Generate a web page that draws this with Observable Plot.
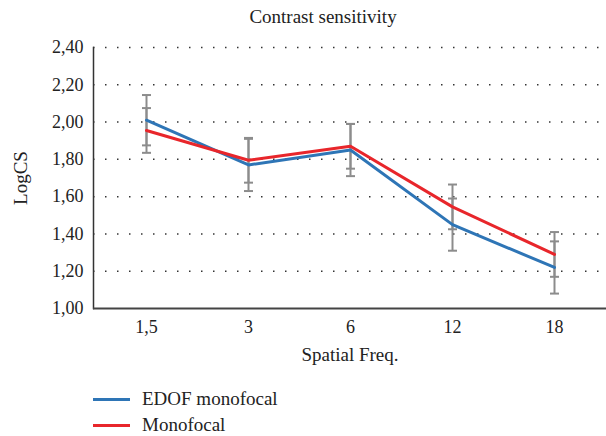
<!DOCTYPE html>
<html>
<head>
<meta charset="utf-8">
<script src="https://cdn.jsdelivr.net/npm/d3@7"></script>
<script src="https://cdn.jsdelivr.net/npm/@observablehq/plot@0.6"></script>
<style>
  html, body { margin: 0; padding: 0; background: #fff; }
  body { width: 606px; height: 436px; overflow: hidden; font-family: "Liberation Serif", "Times New Roman", serif; color: #222; }
  #title { height: 30px; line-height: 34px; font-size: 19px; text-align: center; padding-left: 40px; width: 566px; }
  #legend { margin-left: 93px; margin-top: 11px; font-size: 19px; }
  .item { display: flex; align-items: center; height: 26px; }
  .sw { width: 37px; height: 3px; margin-right: 12px; }
</style>
</head>
<body>
<div id="title">Contrast sensitivity</div>
<div id="chart"></div>
<div id="legend"></div>
<script>
const categories = ["1,5", "3", "6", "12", "18"];
const seriesNames = ["EDOF monofocal", "Monofocal"];
const edofValues = [2.01, 1.77, 1.85, 1.45, 1.22];
const edofErrors = [0.135, 0.14, 0.14, 0.14, 0.14];
const monoValues = [1.955, 1.795, 1.87, 1.545, 1.29];
const monoErrors = [0.12, 0.12, 0.12, 0.12, 0.12];
const yTicks = [1.0, 1.2, 1.4, 1.6, 1.8, 2.0, 2.2, 2.4];
const colors = ["#2e75b6", "#e8262b"];

const rows = [];
categories.forEach((c, i) => {
  rows.push({cat: c, series: seriesNames[0], v: edofValues[i], e: edofErrors[i]});
  rows.push({cat: c, series: seriesNames[1], v: monoValues[i], e: monoErrors[i]});
});

const capSymbol = {
  draw(ctx) { ctx.moveTo(-4.5, 0); ctx.lineTo(4.5, 0); }
};
const errColor = "#8c8c8c";

const chart = Plot.plot({
  width: 606,
  height: 345,
  marginTop: 17,
  marginBottom: 67,
  marginLeft: 93,
  marginRight: 0,
  style: {fontFamily: "'Liberation Serif', 'Times New Roman', serif", fontSize: "18px", color: "#222"},
  x: {type: "point", domain: categories, padding: 0.5, label: null},
  y: {domain: [1, 2.4], label: null},
  color: {domain: seriesNames, range: colors},
  marks: [
    Plot.ruleY(yTicks.slice(1), {stroke: "#000", strokeWidth: 1.5, strokeDasharray: "1.5,10.5", strokeOpacity: 0.8}),
    Plot.ruleX(rows, {x: "cat", y1: d => d.v - d.e, y2: d => d.v + d.e, stroke: errColor, strokeWidth: 2}),
    Plot.dot(rows, {x: "cat", y: d => d.v + d.e, symbol: capSymbol, stroke: errColor, strokeWidth: 2}),
    Plot.dot(rows, {x: "cat", y: d => d.v - d.e, symbol: capSymbol, stroke: errColor, strokeWidth: 2}),
    Plot.line(rows, {x: "cat", y: "v", stroke: "series", strokeWidth: 3}),
    Plot.axisY({ticks: yTicks, tickSize: 0, tickPadding: 10, tickFormat: d => d3.format(".2f")(d).replace(".", ","), fontSize: 18}),
    Plot.axisY({ticks: [], tickSize: 0, label: "LogCS", labelAnchor: "center", labelArrow: "none", labelOffset: 80, fontSize: 19}),
    Plot.axisX({tickSize: 0, tickPadding: 12, fontSize: 18}),
    Plot.axisX({ticks: [], tickSize: 0, label: "Spatial Freq.", labelAnchor: "center", labelArrow: "none", labelOffset: 52, fontSize: 19}),
    Plot.frame({anchor: "left", stroke: "#333", strokeWidth: 1.5}),
    Plot.ruleY([1], {stroke: "#444", strokeWidth: 2})
  ]
});
document.getElementById("chart").appendChild(chart);

const legend = document.getElementById("legend");
seriesNames.forEach((n, i) => {
  const it = document.createElement("div");
  it.className = "item";
  const sw = document.createElement("div");
  sw.className = "sw";
  sw.style.background = colors[i];
  const t = document.createElement("span");
  t.textContent = n;
  it.appendChild(sw); it.appendChild(t);
  legend.appendChild(it);
});
</script>
</body>
</html>
